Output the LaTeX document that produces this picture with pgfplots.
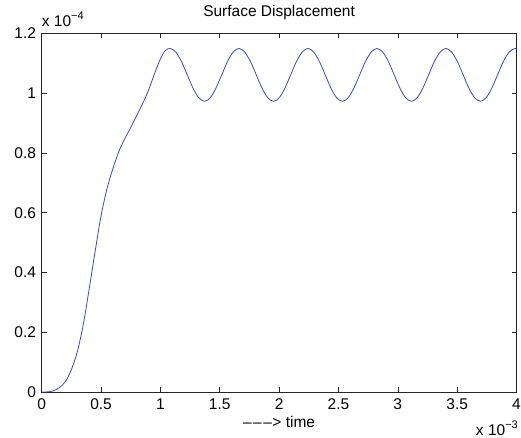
\documentclass[border=0pt]{standalone}
\usepackage{fontspec}
\setmainfont{Liberation Sans}
\usepackage{pgfplots}
\pgfplotsset{compat=1.18}
\definecolor{mblue}{rgb}{0.2,0.3,0.78}
\begin{document}
\begin{tikzpicture}
\path[use as bounding box] (-41.7pt,-46pt) rectangle (479.3pt,392pt);
\begin{axis}[
  scale only axis, width=474.8pt, height=358.5pt,
  xmin=0, xmax=4, ymin=0, ymax=1.2,
  xtick={0,0.5,1,1.5,2,2.5,3,3.5,4},
  xticklabels={0,0.5,1,1.5,2,2.5,3,3.5,4},
  ytick={0,0.2,0.4,0.6,0.8,1,1.2},
  yticklabels={0,0.2,0.4,0.6,0.8,1,1.2},
  tick align=inside, major tick length=5pt,
  tick style={black!85, line width=0.6pt},
  axis line style={black!85, line width=0.8pt},
  ticklabel style={font=\fontsize{15.5}{17}\selectfont, inner sep=0pt},
  xticklabel style={anchor=base, yshift=-18pt},
  yticklabel style={anchor=east, xshift=-5.5pt},
  title={Surface Displacement},
  title style={at={(0.5,1)}, anchor=base, yshift=11pt, inner sep=0pt, font=\fontsize{15.5}{17}\selectfont},
  xlabel={--\kern1.5pt--\kern1.5pt--\kern0.5pt> time},
  xlabel style={at={(0.5,0)}, anchor=base, yshift=-35pt, inner sep=0pt, font=\fontsize{15.5}{17}\selectfont},
  clip=false,
]
\addplot[mblue, line width=0.8pt, smooth, tension=0.5] coordinates {
(0,0) (0.05,0.0005) (0.1,0.004) (0.15,0.015) (0.2,0.035) (0.25,0.075) (0.3,0.135)
(0.35,0.225) (0.4,0.345) (0.45,0.47) (0.5,0.59) (0.55,0.68) (0.6,0.748)
(0.65,0.805) (0.7,0.848) (0.75,0.885) (0.8,0.925) (0.85,0.965) (0.9,1.01)
(0.95,1.065) (1.0,1.115) (1.04,1.142) (1.081,1.150)
(1.129,1.138) (1.178,1.106) (1.226,1.062) (1.275,1.017) (1.323,0.985) (1.372,0.973)
(1.420,0.985) (1.468,1.017) (1.517,1.062) (1.565,1.106) (1.614,1.138) (1.662,1.150)
(1.710,1.138) (1.759,1.106) (1.807,1.062) (1.856,1.017) (1.904,0.985) (1.953,0.973)
(2.001,0.985) (2.049,1.017) (2.098,1.062) (2.146,1.106) (2.195,1.138) (2.243,1.150)
(2.291,1.138) (2.340,1.106) (2.388,1.062) (2.437,1.017) (2.485,0.985) (2.534,0.973)
(2.582,0.985) (2.630,1.017) (2.679,1.062) (2.727,1.106) (2.776,1.138) (2.824,1.150)
(2.872,1.138) (2.921,1.106) (2.969,1.062) (3.018,1.017) (3.066,0.985) (3.115,0.973)
(3.163,0.985) (3.211,1.017) (3.260,1.062) (3.308,1.106) (3.357,1.138) (3.405,1.150)
(3.453,1.138) (3.502,1.106) (3.550,1.062) (3.599,1.017) (3.647,0.985) (3.696,0.973)
(3.744,0.985) (3.792,1.017) (3.841,1.062) (3.889,1.106) (3.938,1.138) (3.986,1.150)
(4.0,1.149)
};
\node[anchor=base west, inner sep=0pt, font=\fontsize{15.5}{17}\selectfont] at (rel axis cs:0,1) [yshift=6.5pt] {x 10\raisebox{7pt}{\fontsize{11}{12}\selectfont −4}};
\node[anchor=base east, inner sep=0pt, font=\fontsize{15.5}{17}\selectfont] at (rel axis cs:1,0) [yshift=-43pt, xshift=1.5pt] {x 10\raisebox{7pt}{\fontsize{11}{12}\selectfont −3}};
\end{axis}
\end{tikzpicture}
\end{document}
